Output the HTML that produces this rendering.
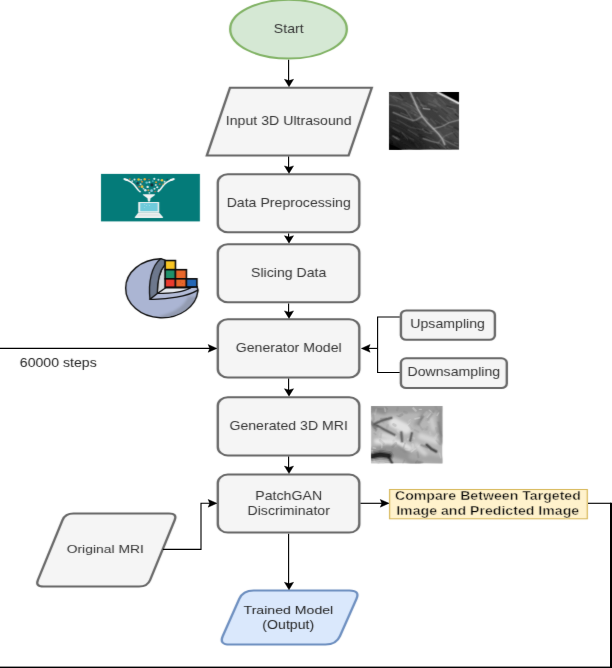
<!DOCTYPE html>
<html lang="en"><head><meta charset="utf-8"><title>Flowchart</title>
<style>html,body{margin:0;padding:0;background:#fff}body{width:612px;height:668px;overflow:hidden}svg{display:block}text{font-family:"Liberation Sans", Arial, Helvetica, sans-serif;white-space:pre}</style></head><body>
<svg width="612" height="668" viewBox="0 0 612 668">
<rect x="0" y="0" width="612" height="668" fill="#fff"/>
<defs><filter id="soft" filterUnits="userSpaceOnUse" x="0" y="0" width="612" height="668" color-interpolation-filters="sRGB"><feConvolveMatrix order="3" kernelMatrix="0.0055 0.0390 0.0055 0.0990 0.7020 0.0990 0.0055 0.0390 0.0055" divisor="1" edgeMode="duplicate" preserveAlpha="false"/></filter></defs>
<g filter="url(#soft)">
<rect x="0" y="0" width="612" height="668" fill="#fff"/>
<g transform="scale(1.178,1)">
<ellipse cx="244.91" cy="29.2" rx="49.49" ry="29.4" fill="#d5e8d4" stroke="#82b366" stroke-width="2"/>
<text x="245.08" y="33.2" font-size="12" fill="#333333" font-weight="normal" text-anchor="middle">Start</text>
<polygon points="175.55,155.6 195.25,87.7 315.62,87.7 295.93,155.6" fill="#f5f5f5" stroke="#666666" stroke-width="2" stroke-linejoin="miter" stroke-miterlimit="10"/>
<text x="245.08" y="124.8" font-size="12" fill="#333333" font-weight="normal" text-anchor="middle">Input 3D Ultrasound</text>
<rect x="184.89" y="174.2" width="120.12" height="58.10" rx="8.5" ry="8.5" fill="#f5f5f5" stroke="#666666" stroke-width="2"/>
<text x="245.08" y="206.9" font-size="12" fill="#333333" font-weight="normal" text-anchor="middle">Data Preprocessing</text>
<rect x="184.89" y="244.2" width="120.12" height="58.10" rx="8.5" ry="8.5" fill="#f5f5f5" stroke="#666666" stroke-width="2"/>
<text x="245.08" y="276.6" font-size="12" fill="#333333" font-weight="normal" text-anchor="middle">Slicing Data</text>
<rect x="184.89" y="319.3" width="120.12" height="58.20" rx="8.5" ry="8.5" fill="#f5f5f5" stroke="#666666" stroke-width="2"/>
<text x="245.08" y="351.8" font-size="12" fill="#333333" font-weight="normal" text-anchor="middle">Generator Model</text>
<rect x="184.89" y="397.3" width="120.12" height="58.10" rx="8.5" ry="8.5" fill="#f5f5f5" stroke="#666666" stroke-width="2"/>
<text x="245.08" y="429.8" font-size="12" fill="#333333" font-weight="normal" text-anchor="middle">Generated 3D MRI</text>
<rect x="184.89" y="474.6" width="120.12" height="58.00" rx="8.5" ry="8.5" fill="#f5f5f5" stroke="#666666" stroke-width="2"/>
<text x="245.08" y="499.7" font-size="12" fill="#333333" font-weight="normal" text-anchor="middle">PatchGAN</text>
<text x="245.08" y="514.7" font-size="12" fill="#333333" font-weight="normal" text-anchor="middle">Discriminator</text>
<rect x="340.32" y="310.5" width="79.80" height="29.30" rx="4.5" ry="4.5" fill="#f5f5f5" stroke="#666666" stroke-width="2"/>
<text x="379.97" y="328.1" font-size="12" fill="#333333" font-weight="normal" text-anchor="middle">Upsampling</text>
<rect x="340.32" y="358.3" width="89.90" height="29.70" rx="4.5" ry="4.5" fill="#f5f5f5" stroke="#666666" stroke-width="2"/>
<text x="385.23" y="376.5" font-size="12" fill="#333333" font-weight="normal" text-anchor="middle">Downsampling</text>
<text x="49.49" y="366.9" font-size="12" fill="#222" font-weight="normal" text-anchor="middle">60000 steps</text>
<rect x="330.73" y="489.5" width="167.83" height="29.3" fill="#fff2cc" stroke="#d6b656" stroke-width="1"/>
<text x="414.18" y="499.6" font-size="12" fill="#000" font-weight="bold" text-anchor="middle" stroke="#fff2cc" stroke-width="0.42" stroke-linejoin="round" paint-order="fill stroke">Compare Between Targeted</text>
<text x="414.01" y="514.8" font-size="12" fill="#000" font-weight="bold" text-anchor="middle" stroke="#fff2cc" stroke-width="0.42" stroke-linejoin="round" paint-order="fill stroke">Image and Predicted Image</text>
<path d="M36.88,586.60 Q29.88,586.60 32.18,579.99 L53.05,520.11 Q55.35,513.50 62.35,513.50 L143.59,513.50 Q150.59,513.50 148.29,520.11 L127.43,579.99 Q125.13,586.60 118.13,586.60 Z" fill="#f5f5f5" stroke="#666666" stroke-width="2"/>
<text transform="translate(89.39,552.7) scale(0.985,0.865)" font-size="12" fill="#333333" font-weight="normal" text-anchor="middle">Original MRI</text>
<path d="M194.91,644.60 Q185.91,644.60 189.08,636.18 L203.11,598.92 Q206.28,590.50 215.28,590.50 L296.77,590.50 Q305.77,590.50 302.60,598.92 L288.57,636.18 Q285.40,644.60 276.40,644.60 Z" fill="#dae8fc" stroke="#6c8ebf" stroke-width="2"/>
<text transform="translate(244.82,614.3) scale(1.0,0.9)" font-size="12" fill="#222" font-weight="normal" text-anchor="middle">Trained Model</text>
<text x="244.74" y="628.8" font-size="12" fill="#222" font-weight="normal" text-anchor="middle">(Output)</text>
</g>
<svg id="ultra" x="389" y="92" width="70" height="57.8" viewBox="25 25 560 465" preserveAspectRatio="none" overflow="hidden">
<defs><filter id="ub1" x="-30%" y="-30%" width="160%" height="160%"><feGaussianBlur stdDeviation="26"/></filter>
<linearGradient id="ubg" x1="0" y1="1" x2="1" y2="0"><stop offset="0" stop-color="#161616"/><stop offset="0.3" stop-color="#2c2c2c"/><stop offset="0.6" stop-color="#3c3c3c"/><stop offset="1" stop-color="#464646"/></linearGradient></defs>
<rect x="25" y="25" width="560" height="465" fill="url(#ubg)"/>
<g filter="url(#ub1)" fill="none" stroke-linecap="round" stroke-linejoin="round">
<path d="M25,60 L150,110 L230,170 L300,250 L400,330 L470,440" stroke="#4a4a4a" stroke-width="70"/>
<path d="M330,60 L450,140 L560,230" stroke="#4e4e4e" stroke-width="80"/>
<path d="M25,330 L140,390 L260,470" stroke="#1c1c1c" stroke-width="70"/>
<path d="M25,470 L120,490" stroke="#080808" stroke-width="70"/>
<path d="M120,200 L200,260 L300,340" stroke="#2a2a2a" stroke-width="40"/>
<path d="M480,330 L585,400" stroke="#505050" stroke-width="60"/>
</g>
<g fill="none" stroke-linecap="round">
<path d="M158,278 l45,23" stroke="#000" stroke-width="8" stroke-opacity="0.11"/>
<path d="M494,146 l65,24" stroke="#b0b0b0" stroke-width="13" stroke-opacity="0.18"/>
<path d="M383,95 l50,40" stroke="#b0b0b0" stroke-width="15" stroke-opacity="0.16"/>
<path d="M61,378 l28,21" stroke="#b0b0b0" stroke-width="13" stroke-opacity="0.18"/>
<path d="M428,434 l49,44" stroke="#b0b0b0" stroke-width="12" stroke-opacity="0.17"/>
<path d="M549,434 l26,7" stroke="#b0b0b0" stroke-width="12" stroke-opacity="0.20"/>
<path d="M376,165 l33,21" stroke="#b0b0b0" stroke-width="14" stroke-opacity="0.14"/>
<path d="M531,342 l39,49" stroke="#000" stroke-width="10" stroke-opacity="0.23"/>
<path d="M507,474 l31,38" stroke="#000" stroke-width="16" stroke-opacity="0.14"/>
<path d="M346,158 l61,14" stroke="#000" stroke-width="16" stroke-opacity="0.12"/>
<path d="M255,95 l54,23" stroke="#000" stroke-width="14" stroke-opacity="0.11"/>
<path d="M50,359 l58,27" stroke="#000" stroke-width="18" stroke-opacity="0.20"/>
<path d="M198,61 l17,13" stroke="#b0b0b0" stroke-width="14" stroke-opacity="0.12"/>
<path d="M112,45 l23,27" stroke="#000" stroke-width="12" stroke-opacity="0.28"/>
<path d="M283,267 l39,31" stroke="#b0b0b0" stroke-width="17" stroke-opacity="0.15"/>
<path d="M309,226 l24,22" stroke="#b0b0b0" stroke-width="13" stroke-opacity="0.20"/>
<path d="M332,30 l43,24" stroke="#b0b0b0" stroke-width="14" stroke-opacity="0.15"/>
<path d="M59,317 l46,28" stroke="#b0b0b0" stroke-width="15" stroke-opacity="0.16"/>
<path d="M37,53 l52,44" stroke="#b0b0b0" stroke-width="14" stroke-opacity="0.12"/>
<path d="M204,194 l35,16" stroke="#b0b0b0" stroke-width="12" stroke-opacity="0.10"/>
<path d="M457,38 l46,33" stroke="#b0b0b0" stroke-width="16" stroke-opacity="0.09"/>
<path d="M159,112 l48,27" stroke="#b0b0b0" stroke-width="11" stroke-opacity="0.11"/>
<path d="M492,229 l19,21" stroke="#b0b0b0" stroke-width="17" stroke-opacity="0.15"/>
<path d="M278,130 l45,12" stroke="#b0b0b0" stroke-width="16" stroke-opacity="0.17"/>
<path d="M128,155 l36,38" stroke="#000" stroke-width="9" stroke-opacity="0.17"/>
<path d="M188,394 l35,14" stroke="#b0b0b0" stroke-width="12" stroke-opacity="0.12"/>
<path d="M541,98 l66,12" stroke="#000" stroke-width="12" stroke-opacity="0.30"/>
<path d="M557,456 l54,20" stroke="#000" stroke-width="13" stroke-opacity="0.23"/>
<path d="M187,184 l22,8" stroke="#b0b0b0" stroke-width="16" stroke-opacity="0.10"/>
<path d="M50,445 l50,44" stroke="#000" stroke-width="14" stroke-opacity="0.28"/>
<path d="M32,372 l33,11" stroke="#000" stroke-width="12" stroke-opacity="0.20"/>
<path d="M551,310 l29,14" stroke="#000" stroke-width="16" stroke-opacity="0.20"/>
<path d="M222,117 l50,34" stroke="#b0b0b0" stroke-width="17" stroke-opacity="0.17"/>
<path d="M476,408 l51,9" stroke="#000" stroke-width="11" stroke-opacity="0.11"/>
<path d="M175,270 l38,21" stroke="#000" stroke-width="9" stroke-opacity="0.10"/>
<path d="M96,83 l67,16" stroke="#000" stroke-width="13" stroke-opacity="0.12"/>
<path d="M202,171 l47,23" stroke="#b0b0b0" stroke-width="10" stroke-opacity="0.11"/>
<path d="M209,83 l46,32" stroke="#b0b0b0" stroke-width="10" stroke-opacity="0.07"/>
<path d="M234,306 l27,28" stroke="#000" stroke-width="12" stroke-opacity="0.22"/>
<path d="M234,256 l31,27" stroke="#000" stroke-width="10" stroke-opacity="0.19"/>
<path d="M325,348 l40,9" stroke="#b0b0b0" stroke-width="17" stroke-opacity="0.18"/>
<path d="M235,443 l23,24" stroke="#b0b0b0" stroke-width="16" stroke-opacity="0.08"/>
<path d="M396,438 l37,38" stroke="#000" stroke-width="9" stroke-opacity="0.21"/>
<path d="M354,27 l56,17" stroke="#b0b0b0" stroke-width="9" stroke-opacity="0.07"/>
<path d="M518,108 l61,12" stroke="#b0b0b0" stroke-width="15" stroke-opacity="0.18"/>
<path d="M493,468 l48,35" stroke="#b0b0b0" stroke-width="13" stroke-opacity="0.17"/>
<path d="M425,75 l48,46" stroke="#b0b0b0" stroke-width="14" stroke-opacity="0.11"/>
<path d="M489,138 l31,10" stroke="#000" stroke-width="12" stroke-opacity="0.25"/>
<path d="M231,209 l37,18" stroke="#b0b0b0" stroke-width="18" stroke-opacity="0.13"/>
<path d="M256,373 l52,16" stroke="#000" stroke-width="13" stroke-opacity="0.23"/>
<path d="M296,324 l18,21" stroke="#b0b0b0" stroke-width="17" stroke-opacity="0.16"/>
<path d="M315,231 l22,20" stroke="#b0b0b0" stroke-width="14" stroke-opacity="0.09"/>
<path d="M201,133 l51,44" stroke="#b0b0b0" stroke-width="12" stroke-opacity="0.16"/>
<path d="M503,297 l29,12" stroke="#b0b0b0" stroke-width="12" stroke-opacity="0.13"/>
<path d="M121,193 l53,24" stroke="#b0b0b0" stroke-width="13" stroke-opacity="0.20"/>
<path d="M360,243 l41,45" stroke="#b0b0b0" stroke-width="15" stroke-opacity="0.13"/>
<path d="M505,211 l50,46" stroke="#b0b0b0" stroke-width="10" stroke-opacity="0.09"/>
<path d="M427,339 l38,50" stroke="#b0b0b0" stroke-width="11" stroke-opacity="0.09"/>
<path d="M130,353 l43,49" stroke="#b0b0b0" stroke-width="11" stroke-opacity="0.18"/>
<path d="M262,364 l24,6" stroke="#000" stroke-width="12" stroke-opacity="0.16"/>
<path d="M350,339 l36,7" stroke="#b0b0b0" stroke-width="10" stroke-opacity="0.13"/>
<path d="M353,469 l42,22" stroke="#b0b0b0" stroke-width="15" stroke-opacity="0.10"/>
<path d="M88,438 l16,19" stroke="#000" stroke-width="16" stroke-opacity="0.17"/>
<path d="M449,162 l40,34" stroke="#000" stroke-width="16" stroke-opacity="0.15"/>
<path d="M563,338 l21,14" stroke="#b0b0b0" stroke-width="15" stroke-opacity="0.11"/>
<path d="M405,288 l50,16" stroke="#000" stroke-width="17" stroke-opacity="0.14"/>
<path d="M392,82 l17,21" stroke="#b0b0b0" stroke-width="14" stroke-opacity="0.16"/>
<path d="M336,326 l31,18" stroke="#b0b0b0" stroke-width="15" stroke-opacity="0.07"/>
<path d="M448,278 l28,26" stroke="#b0b0b0" stroke-width="17" stroke-opacity="0.11"/>
<path d="M49,260 l55,21" stroke="#b0b0b0" stroke-width="12" stroke-opacity="0.11"/>
<path d="M328,384 l56,27" stroke="#b0b0b0" stroke-width="9" stroke-opacity="0.10"/>
<path d="M88,387 l21,20" stroke="#b0b0b0" stroke-width="15" stroke-opacity="0.12"/>
<path d="M482,373 l22,16" stroke="#b0b0b0" stroke-width="13" stroke-opacity="0.09"/>
<path d="M343,119 l55,21" stroke="#b0b0b0" stroke-width="17" stroke-opacity="0.17"/>
<path d="M557,203 l40,28" stroke="#000" stroke-width="15" stroke-opacity="0.30"/>
<path d="M193,425 l43,26" stroke="#000" stroke-width="16" stroke-opacity="0.10"/>
<path d="M396,254 l36,24" stroke="#b0b0b0" stroke-width="8" stroke-opacity="0.13"/>
<path d="M305,325 l42,24" stroke="#000" stroke-width="9" stroke-opacity="0.28"/>
<path d="M469,315 l37,8" stroke="#b0b0b0" stroke-width="13" stroke-opacity="0.07"/>
<path d="M546,175 l36,41" stroke="#b0b0b0" stroke-width="14" stroke-opacity="0.18"/>
</g>
<g fill="none" stroke-linecap="round" stroke-linejoin="round">
<path d="M195,25 L225,90 L255,160 L290,220 L330,270 L380,320 L420,360 L450,400 L470,445" stroke="#c8c8c8" stroke-width="29" stroke-opacity="0.140"/>
<path d="M195,25 L225,90 L255,160 L290,220 L330,270 L380,320 L420,360 L450,400 L470,445" stroke="#c8c8c8" stroke-width="17" stroke-opacity="0.280"/>
<path d="M195,25 L225,90 L255,160 L290,220 L330,270 L380,320 L420,360 L450,400 L470,445" stroke="#c8c8c8" stroke-width="9" stroke-opacity="0.500"/>
<path d="M290,222 L240,250 L215,255 L150,228 L60,190" stroke="#b0b0b0" stroke-width="29" stroke-opacity="0.084"/>
<path d="M290,222 L240,250 L215,255 L150,228 L60,190" stroke="#b0b0b0" stroke-width="17" stroke-opacity="0.168"/>
<path d="M290,222 L240,250 L215,255 L150,228 L60,190" stroke="#b0b0b0" stroke-width="9" stroke-opacity="0.300"/>
<path d="M30,125 L100,140 L160,170 L215,250" stroke="#a0a0a0" stroke-width="29" stroke-opacity="0.049"/>
<path d="M30,125 L100,140 L160,170 L215,250" stroke="#a0a0a0" stroke-width="17" stroke-opacity="0.098"/>
<path d="M30,125 L100,140 L160,170 L215,250" stroke="#a0a0a0" stroke-width="9" stroke-opacity="0.175"/>
<path d="M380,320 L450,302 L510,270 L585,250" stroke="#b8b8b8" stroke-width="26" stroke-opacity="0.084"/>
<path d="M380,320 L450,302 L510,270 L585,250" stroke="#b8b8b8" stroke-width="15" stroke-opacity="0.168"/>
<path d="M380,320 L450,302 L510,270 L585,250" stroke="#b8b8b8" stroke-width="8" stroke-opacity="0.300"/>
<path d="M250,70 L300,150" stroke="#a0a0a0" stroke-width="26" stroke-opacity="0.049"/>
<path d="M250,70 L300,150" stroke="#a0a0a0" stroke-width="15" stroke-opacity="0.098"/>
<path d="M250,70 L300,150" stroke="#a0a0a0" stroke-width="8" stroke-opacity="0.175"/>
<path d="M300,158 L350,164" stroke="#d0d0d0" stroke-width="22" stroke-opacity="0.098"/>
<path d="M300,158 L350,164" stroke="#d0d0d0" stroke-width="13" stroke-opacity="0.196"/>
<path d="M300,158 L350,164" stroke="#d0d0d0" stroke-width="7" stroke-opacity="0.350"/>
<path d="M430,215 L470,250 L500,270" stroke="#a8a8a8" stroke-width="26" stroke-opacity="0.056"/>
<path d="M430,215 L470,250 L500,270" stroke="#a8a8a8" stroke-width="15" stroke-opacity="0.112"/>
<path d="M430,215 L470,250 L500,270" stroke="#a8a8a8" stroke-width="8" stroke-opacity="0.200"/>
<path d="M55,380 L100,408" stroke="#a0a0a0" stroke-width="26" stroke-opacity="0.056"/>
<path d="M55,380 L100,408" stroke="#a0a0a0" stroke-width="15" stroke-opacity="0.112"/>
<path d="M55,380 L100,408" stroke="#a0a0a0" stroke-width="8" stroke-opacity="0.200"/>
<path d="M300,400 L360,420 L420,435" stroke="#b0b0b0" stroke-width="29" stroke-opacity="0.070"/>
<path d="M300,400 L360,420 L420,435" stroke="#b0b0b0" stroke-width="17" stroke-opacity="0.140"/>
<path d="M300,400 L360,420 L420,435" stroke="#b0b0b0" stroke-width="9" stroke-opacity="0.250"/>
<path d="M180,330 L260,380" stroke="#909090" stroke-width="26" stroke-opacity="0.042"/>
<path d="M180,330 L260,380" stroke="#909090" stroke-width="15" stroke-opacity="0.084"/>
<path d="M180,330 L260,380" stroke="#909090" stroke-width="8" stroke-opacity="0.150"/>
<path d="M450,400 L520,440 L585,470" stroke="#a8a8a8" stroke-width="29" stroke-opacity="0.056"/>
<path d="M450,400 L520,440 L585,470" stroke="#a8a8a8" stroke-width="17" stroke-opacity="0.112"/>
<path d="M450,400 L520,440 L585,470" stroke="#a8a8a8" stroke-width="9" stroke-opacity="0.200"/>
<path d="M60,60 L130,90" stroke="#989898" stroke-width="26" stroke-opacity="0.049"/>
<path d="M60,60 L130,90" stroke="#989898" stroke-width="15" stroke-opacity="0.098"/>
<path d="M60,60 L130,90" stroke="#989898" stroke-width="8" stroke-opacity="0.175"/>
<path d="M420,430 L470,380 L540,350" stroke="#a0a0a0" stroke-width="26" stroke-opacity="0.042"/>
<path d="M420,430 L470,380 L540,350" stroke="#a0a0a0" stroke-width="15" stroke-opacity="0.084"/>
<path d="M420,430 L470,380 L540,350" stroke="#a0a0a0" stroke-width="8" stroke-opacity="0.150"/>
<path d="M90,250 L200,310 L300,330" stroke="#909090" stroke-width="26" stroke-opacity="0.035"/>
<path d="M90,250 L200,310 L300,330" stroke="#909090" stroke-width="15" stroke-opacity="0.070"/>
<path d="M90,250 L200,310 L300,330" stroke="#909090" stroke-width="8" stroke-opacity="0.125"/>
<path d="M130,120 L200,150 L250,200" stroke="#909090" stroke-width="32" stroke-opacity="0.028"/>
<path d="M130,120 L200,150 L250,200" stroke="#909090" stroke-width="19" stroke-opacity="0.056"/>
<path d="M130,120 L200,150 L250,200" stroke="#909090" stroke-width="10" stroke-opacity="0.100"/>
<path d="M340,90 L420,130 L520,200" stroke="#8c8c8c" stroke-width="32" stroke-opacity="0.028"/>
<path d="M340,90 L420,130 L520,200" stroke="#8c8c8c" stroke-width="19" stroke-opacity="0.056"/>
<path d="M340,90 L420,130 L520,200" stroke="#8c8c8c" stroke-width="10" stroke-opacity="0.100"/>
<path d="M40,300 L120,340 L220,420" stroke="#707070" stroke-width="32" stroke-opacity="0.028"/>
<path d="M40,300 L120,340 L220,420" stroke="#707070" stroke-width="19" stroke-opacity="0.056"/>
<path d="M40,300 L120,340 L220,420" stroke="#707070" stroke-width="10" stroke-opacity="0.100"/>
</g>
<polygon points="436,25 585,25 585,108" fill="#000"/>
<polygon points="25,440 25,490 132,490" fill="#000"/>
<path d="M405,25 L585,118" stroke="#9a9a9a" stroke-width="26" stroke-opacity="0.5" fill="none"/>
<path d="M412,28 L585,117" stroke="#d6d6d6" stroke-width="13" fill="none"/>
<polygon points="452,25 585,25 585,96" fill="#000"/>
</svg>
<svg id="mri" x="371.1" y="406.1" width="71.4" height="57.5" viewBox="17 17 575 463" preserveAspectRatio="none" overflow="hidden">
<defs><filter id="mb1" x="-30%" y="-30%" width="160%" height="160%"><feGaussianBlur stdDeviation="14"/></filter></defs>
<rect x="17" y="17" width="575" height="463" fill="#b6b6b6"/>
<g filter="url(#mb1)" stroke-linecap="round" stroke-linejoin="round" fill="none">
<path d="M17,40 L250,40 L592,30" stroke="#9c9c9c" stroke-width="70"/>
<path d="M17,30 L120,60" stroke="#8c8c8c" stroke-width="50"/>
<path d="M200,150 L300,200" stroke="#e2e2e2" stroke-width="80"/>
<path d="M60,300 L250,310 L330,360" stroke="#e4e4e4" stroke-width="40"/>
<path d="M420,260 L540,300" stroke="#d4d4d4" stroke-width="50"/>
<path d="M17,400 L150,370 L300,410 L380,480" stroke="#949494" stroke-width="90"/>
<path d="M350,420 L592,460" stroke="#a6a6a6" stroke-width="60"/>
<path d="M460,50 L380,160" stroke="#989898" stroke-width="30"/>
<path d="M575,60 L585,300" stroke="#929292" stroke-width="50"/>
<path d="M500,120 L520,200" stroke="#d0d0d0" stroke-width="30"/>
<path d="M100,250 L200,270" stroke="#d8d8d8" stroke-width="36"/>
<path d="M380,330 L450,400" stroke="#d4d4d4" stroke-width="36"/>
</g>
<g stroke-linecap="round" fill="none">
<path d="M375,360 l-35,26" stroke="#f2f2f2" stroke-width="10" stroke-opacity="0.38"/>
<path d="M285,454 l-19,38" stroke="#6a6a6a" stroke-width="13" stroke-opacity="0.18"/>
<path d="M330,283 l21,1" stroke="#6a6a6a" stroke-width="19" stroke-opacity="0.26"/>
<path d="M109,386 l30,14" stroke="#6a6a6a" stroke-width="20" stroke-opacity="0.10"/>
<path d="M137,117 l-41,2" stroke="#6a6a6a" stroke-width="16" stroke-opacity="0.27"/>
<path d="M407,112 l-35,7" stroke="#f2f2f2" stroke-width="14" stroke-opacity="0.37"/>
<path d="M225,94 l15,7" stroke="#6a6a6a" stroke-width="10" stroke-opacity="0.21"/>
<path d="M407,173 l22,33" stroke="#6a6a6a" stroke-width="16" stroke-opacity="0.16"/>
<path d="M422,43 l-16,1" stroke="#f2f2f2" stroke-width="10" stroke-opacity="0.36"/>
<path d="M470,187 l-4,15" stroke="#6a6a6a" stroke-width="21" stroke-opacity="0.13"/>
<path d="M130,367 l-42,9" stroke="#6a6a6a" stroke-width="16" stroke-opacity="0.16"/>
<path d="M463,67 l-27,28" stroke="#f2f2f2" stroke-width="21" stroke-opacity="0.16"/>
<path d="M69,175 l-15,40" stroke="#6a6a6a" stroke-width="17" stroke-opacity="0.27"/>
<path d="M197,164 l15,9" stroke="#6a6a6a" stroke-width="22" stroke-opacity="0.22"/>
<path d="M110,39 l-31,1" stroke="#6a6a6a" stroke-width="17" stroke-opacity="0.14"/>
<path d="M492,228 l4,16" stroke="#f2f2f2" stroke-width="16" stroke-opacity="0.16"/>
<path d="M499,77 l-29,32" stroke="#f2f2f2" stroke-width="11" stroke-opacity="0.35"/>
<path d="M267,86 l-21,11" stroke="#6a6a6a" stroke-width="20" stroke-opacity="0.28"/>
<path d="M578,227 l1,37" stroke="#6a6a6a" stroke-width="15" stroke-opacity="0.15"/>
<path d="M101,192 l-44,2" stroke="#f2f2f2" stroke-width="14" stroke-opacity="0.27"/>
<path d="M68,143 l-32,26" stroke="#6a6a6a" stroke-width="19" stroke-opacity="0.24"/>
<path d="M416,324 l-19,18" stroke="#f2f2f2" stroke-width="16" stroke-opacity="0.22"/>
<path d="M460,337 l26,35" stroke="#f2f2f2" stroke-width="10" stroke-opacity="0.30"/>
<path d="M332,133 l-15,25" stroke="#f2f2f2" stroke-width="20" stroke-opacity="0.31"/>
<path d="M217,315 l-27,29" stroke="#6a6a6a" stroke-width="20" stroke-opacity="0.25"/>
<path d="M413,469 l-30,4" stroke="#6a6a6a" stroke-width="20" stroke-opacity="0.13"/>
<path d="M556,238 l-21,30" stroke="#f2f2f2" stroke-width="19" stroke-opacity="0.19"/>
<path d="M351,325 l8,33" stroke="#f2f2f2" stroke-width="19" stroke-opacity="0.31"/>
<path d="M33,91 l6,34" stroke="#6a6a6a" stroke-width="18" stroke-opacity="0.22"/>
<path d="M41,235 l13,11" stroke="#6a6a6a" stroke-width="12" stroke-opacity="0.16"/>
<path d="M128,34 l3,26" stroke="#f2f2f2" stroke-width="13" stroke-opacity="0.30"/>
<path d="M536,17 l7,22" stroke="#6a6a6a" stroke-width="20" stroke-opacity="0.12"/>
<path d="M232,34 l-6,17" stroke="#6a6a6a" stroke-width="17" stroke-opacity="0.16"/>
<path d="M568,396 l10,38" stroke="#f2f2f2" stroke-width="12" stroke-opacity="0.24"/>
<path d="M360,278 l-44,6" stroke="#f2f2f2" stroke-width="21" stroke-opacity="0.24"/>
<path d="M18,67 l-7,33" stroke="#6a6a6a" stroke-width="21" stroke-opacity="0.21"/>
<path d="M233,217 l18,15" stroke="#f2f2f2" stroke-width="22" stroke-opacity="0.24"/>
<path d="M542,293 l30,32" stroke="#6a6a6a" stroke-width="14" stroke-opacity="0.17"/>
<path d="M583,245 l18,23" stroke="#6a6a6a" stroke-width="15" stroke-opacity="0.21"/>
<path d="M186,379 l-13,8" stroke="#6a6a6a" stroke-width="21" stroke-opacity="0.15"/>
<path d="M467,131 l13,15" stroke="#f2f2f2" stroke-width="17" stroke-opacity="0.22"/>
<path d="M290,316 l-12,35" stroke="#6a6a6a" stroke-width="14" stroke-opacity="0.24"/>
<path d="M324,173 l18,25" stroke="#6a6a6a" stroke-width="19" stroke-opacity="0.16"/>
<path d="M357,34 l20,20" stroke="#f2f2f2" stroke-width="17" stroke-opacity="0.37"/>
<path d="M25,377 l7,31" stroke="#f2f2f2" stroke-width="16" stroke-opacity="0.31"/>
<path d="M541,195 l14,38" stroke="#6a6a6a" stroke-width="20" stroke-opacity="0.15"/>
<path d="M55,404 l-16,23" stroke="#6a6a6a" stroke-width="21" stroke-opacity="0.24"/>
<path d="M99,239 l-5,30" stroke="#6a6a6a" stroke-width="17" stroke-opacity="0.13"/>
<path d="M484,49 l30,26" stroke="#f2f2f2" stroke-width="10" stroke-opacity="0.32"/>
<path d="M432,470 l-36,0" stroke="#6a6a6a" stroke-width="13" stroke-opacity="0.25"/>
<path d="M388,458 l-12,15" stroke="#6a6a6a" stroke-width="12" stroke-opacity="0.27"/>
<path d="M368,209 l29,16" stroke="#6a6a6a" stroke-width="15" stroke-opacity="0.12"/>
<path d="M58,44 l-9,36" stroke="#f2f2f2" stroke-width="15" stroke-opacity="0.18"/>
<path d="M198,295 l1,43" stroke="#6a6a6a" stroke-width="18" stroke-opacity="0.11"/>
<path d="M104,309 l-1,42" stroke="#f2f2f2" stroke-width="13" stroke-opacity="0.31"/>
<path d="M334,135 l-22,22" stroke="#6a6a6a" stroke-width="14" stroke-opacity="0.14"/>
<path d="M441,100 l-22,27" stroke="#6a6a6a" stroke-width="11" stroke-opacity="0.22"/>
<path d="M89,292 l30,28" stroke="#6a6a6a" stroke-width="20" stroke-opacity="0.16"/>
<path d="M34,353 l19,3" stroke="#f2f2f2" stroke-width="13" stroke-opacity="0.32"/>
<path d="M84,467 l-20,34" stroke="#6a6a6a" stroke-width="14" stroke-opacity="0.21"/>
<path d="M152,171 l-9,24" stroke="#6a6a6a" stroke-width="20" stroke-opacity="0.12"/>
<path d="M390,389 l8,40" stroke="#6a6a6a" stroke-width="17" stroke-opacity="0.21"/>
<path d="M443,200 l15,5" stroke="#6a6a6a" stroke-width="21" stroke-opacity="0.11"/>
<path d="M294,369 l29,0" stroke="#f2f2f2" stroke-width="15" stroke-opacity="0.30"/>
<path d="M285,63 l17,9" stroke="#6a6a6a" stroke-width="21" stroke-opacity="0.17"/>
<path d="M104,135 l13,15" stroke="#6a6a6a" stroke-width="16" stroke-opacity="0.14"/>
<path d="M35,445 l17,40" stroke="#f2f2f2" stroke-width="16" stroke-opacity="0.32"/>
<path d="M561,72 l-12,20" stroke="#f2f2f2" stroke-width="12" stroke-opacity="0.33"/>
<path d="M133,29 l13,11" stroke="#6a6a6a" stroke-width="14" stroke-opacity="0.28"/>
<path d="M196,234 l23,29" stroke="#f2f2f2" stroke-width="13" stroke-opacity="0.19"/>
</g>
<g stroke-linecap="round" stroke-linejoin="round" fill="none">
<path d="M180,112 L100,135 L45,162 L130,210 L205,248" stroke="#404040" stroke-width="34" stroke-opacity="0.128"/>
<path d="M180,112 L100,135 L45,162 L130,210 L205,248" stroke="#404040" stroke-width="22" stroke-opacity="0.240"/>
<path d="M180,112 L100,135 L45,162 L130,210 L205,248" stroke="#404040" stroke-width="13" stroke-opacity="0.480"/>
<path d="M20,150 L50,190" stroke="#505050" stroke-width="57" stroke-opacity="0.096"/>
<path d="M20,150 L50,190" stroke="#505050" stroke-width="37" stroke-opacity="0.180"/>
<path d="M20,150 L50,190" stroke="#505050" stroke-width="22" stroke-opacity="0.360"/>
<path d="M260,230 L266,300" stroke="#404040" stroke-width="36" stroke-opacity="0.128"/>
<path d="M260,230 L266,300" stroke="#404040" stroke-width="24" stroke-opacity="0.240"/>
<path d="M260,230 L266,300" stroke="#404040" stroke-width="14" stroke-opacity="0.480"/>
<path d="M345,235 L332,295" stroke="#383838" stroke-width="31" stroke-opacity="0.136"/>
<path d="M345,235 L332,295" stroke="#383838" stroke-width="20" stroke-opacity="0.255"/>
<path d="M345,235 L332,295" stroke="#383838" stroke-width="12" stroke-opacity="0.510"/>
<path d="M465,330 L500,360 L540,382" stroke="#282828" stroke-width="36" stroke-opacity="0.152"/>
<path d="M465,330 L500,360 L540,382" stroke="#282828" stroke-width="24" stroke-opacity="0.285"/>
<path d="M465,330 L500,360 L540,382" stroke="#282828" stroke-width="14" stroke-opacity="0.570"/>
<path d="M25,420 L90,408 L160,418" stroke="#000" stroke-width="78" stroke-opacity="0.160"/>
<path d="M25,420 L90,408 L160,418" stroke="#000" stroke-width="51" stroke-opacity="0.300"/>
<path d="M25,420 L90,408 L160,418" stroke="#000" stroke-width="30" stroke-opacity="0.600"/>
<path d="M160,430 L185,475" stroke="#1c1c1c" stroke-width="34" stroke-opacity="0.144"/>
<path d="M160,430 L185,475" stroke="#1c1c1c" stroke-width="22" stroke-opacity="0.270"/>
<path d="M160,430 L185,475" stroke="#1c1c1c" stroke-width="13" stroke-opacity="0.540"/>
<path d="M430,100 L400,160" stroke="#707070" stroke-width="36" stroke-opacity="0.080"/>
<path d="M430,100 L400,160" stroke="#707070" stroke-width="24" stroke-opacity="0.150"/>
<path d="M430,100 L400,160" stroke="#707070" stroke-width="14" stroke-opacity="0.300"/>
<path d="M520,60 L470,130" stroke="#808080" stroke-width="36" stroke-opacity="0.064"/>
<path d="M520,60 L470,130" stroke="#808080" stroke-width="24" stroke-opacity="0.120"/>
<path d="M520,60 L470,130" stroke="#808080" stroke-width="14" stroke-opacity="0.240"/>
<path d="M560,150 L575,230" stroke="#707070" stroke-width="36" stroke-opacity="0.064"/>
<path d="M560,150 L575,230" stroke="#707070" stroke-width="24" stroke-opacity="0.120"/>
<path d="M560,150 L575,230" stroke="#707070" stroke-width="14" stroke-opacity="0.240"/>
<path d="M220,330 L290,380" stroke="#808080" stroke-width="36" stroke-opacity="0.064"/>
<path d="M220,330 L290,380" stroke="#808080" stroke-width="24" stroke-opacity="0.120"/>
<path d="M220,330 L290,380" stroke="#808080" stroke-width="14" stroke-opacity="0.240"/>
<path d="M420,330 L470,350" stroke="#606060" stroke-width="31" stroke-opacity="0.064"/>
<path d="M420,330 L470,350" stroke="#606060" stroke-width="20" stroke-opacity="0.120"/>
<path d="M420,330 L470,350" stroke="#606060" stroke-width="12" stroke-opacity="0.240"/>
<path d="M17,470 L120,472" stroke="#c8c8c8" stroke-width="14" stroke-opacity="0.8"/>
</g>
</svg>
<g id="prep">
<rect x="101" y="173.9" width="98.9" height="47.5" fill="#047b79"/>
<svg x="120" y="172" width="60" height="51.96" viewBox="0 0 612 530" preserveAspectRatio="none">
<g fill="none" stroke="#f4f7f7" stroke-linecap="round" stroke-linejoin="round">
<path d="M48,74 Q120,95 160,150 T205,200" stroke-width="15"/>
<path d="M545,74 Q472,95 432,150 T388,198" stroke-width="15"/>
<path d="M45,72 L75,82" stroke-width="20"/>
<path d="M548,72 L518,82" stroke-width="20"/>
</g>
<g>
<circle cx="100" cy="72" r="9" fill="#c97a4a"/>
<circle cx="148" cy="76" r="10" fill="#e8ecec"/>
<circle cx="190" cy="76" r="13" fill="#f2c230"/>
<circle cx="252" cy="74" r="12" fill="#efb23a"/>
<circle cx="296" cy="76" r="8" fill="#b46a3c"/>
<circle cx="350" cy="70" r="11" fill="#e6f0f0"/>
<circle cx="428" cy="84" r="13" fill="#f2c640"/>
<circle cx="482" cy="76" r="8" fill="#1e3c48"/>
<circle cx="180" cy="116" r="13" fill="#1c3a44"/>
<circle cx="225" cy="100" r="10" fill="#d98a3a"/>
<circle cx="272" cy="108" r="12" fill="#6cc6d6"/>
<circle cx="325" cy="132" r="16" fill="#173038"/>
<circle cx="368" cy="104" r="10" fill="#e0a030"/>
<circle cx="405" cy="124" r="9" fill="#c0603a"/>
<circle cx="225" cy="150" r="14" fill="#f0c040"/>
<circle cx="282" cy="152" r="12" fill="#e8eeee"/>
<circle cx="196" cy="150" r="9" fill="#c87040"/>
<circle cx="380" cy="156" r="11" fill="#e8f0f0"/>
<circle cx="258" cy="186" r="13" fill="#dfe6ea"/>
<circle cx="322" cy="190" r="14" fill="#8ec6dc"/>
<circle cx="358" cy="200" r="8" fill="#c0604a"/>
<circle cx="395" cy="186" r="9" fill="#eef2f2"/>
</g>
<g opacity="0.9">
<circle cx="125" cy="92" r="9" fill="#e8eeee"/>
<circle cx="165" cy="98" r="9" fill="#3a8a9a"/>
<circle cx="210" cy="126" r="10" fill="#e9efef"/>
<circle cx="245" cy="128" r="10" fill="#2d6f7a"/>
<circle cx="300" cy="104" r="10" fill="#f0f3f3"/>
<circle cx="335" cy="92" r="9" fill="#58b6c8"/>
<circle cx="392" cy="80" r="10" fill="#e6ecec"/>
<circle cx="455" cy="100" r="10" fill="#e8eeee"/>
<circle cx="440" cy="126" r="8" fill="#d9a53a"/>
<circle cx="365" cy="132" r="10" fill="#dfe8e8"/>
<circle cx="290" cy="186" r="10" fill="#e0a040"/>
<circle cx="352" cy="170" r="10" fill="#f0f4f4"/>
<circle cx="240" cy="170" r="9" fill="#cfe0e0"/>
<circle cx="300" cy="212" r="9" fill="#e8eeee"/>
<circle cx="215" cy="80" r="8" fill="#e8eeee"/>
<circle cx="275" cy="78" r="8" fill="#2a5560"/>
</g>
<path d="M232,228 L358,228 L352,240 L312,268 L306,300 L286,300 L280,268 L240,240 Z" fill="#f2f4f4"/>
<rect x="186" y="306" width="214" height="110" rx="6" fill="#eef1f1"/>
<rect x="206" y="316" width="178" height="84" fill="#6fcadb"/>
<path d="M186,416 L400,416 L440,462 Q440,468 432,468 L158,468 Q150,468 150,462 Z" fill="#f0f2f2"/>
<path d="M190,432 L396,432 M180,446 L408,446" stroke="#c9d3d3" stroke-width="5" fill="none"/>
<g fill="#e9f7fa"><circle cx="250" cy="332" r="4"/><circle cx="270" cy="343" r="4"/><circle cx="300" cy="340" r="4"/><circle cx="248" cy="360" r="4"/></g>
</svg>
</g>
<svg id="slicer" x="122" y="254" width="80" height="67.97" viewBox="0 0 612 520" preserveAspectRatio="none">
<defs><filter id="sb" x="-20%" y="-20%" width="140%" height="140%"><feGaussianBlur stdDeviation="9"/></filter>
<clipPath id="sphc"><ellipse cx="305" cy="261" rx="273" ry="223"/></clipPath></defs>
<!-- sphere body -->
<path d="M296,36 A277,226 0 1 0 581,282 L575,250 L330,250 L330,60 Z" fill="#abb5d3" stroke="#111" stroke-width="11" stroke-linejoin="round"/>
<g clip-path="url(#sphc)"><path d="M290,474 C390,452 480,400 505,325 L600,330 C560,450 460,510 300,510 Z" fill="#8f97ab" opacity="0.85" filter="url(#sb)"/></g>
<!-- lower rim -->
<path d="M214,346 C350,350 500,324 580,276 L574,250 L520,258 L330,258 L265,300 Z" fill="#b3bcd8" stroke="#111" stroke-width="10" stroke-linejoin="round"/>
<!-- floor -->
<path d="M270,302 C360,302 470,290 524,260 L330,258 Z" fill="#e6e9ee" stroke="#111" stroke-width="9" stroke-linejoin="round"/>
<!-- inner wall -->
<path d="M326,82 C296,120 270,200 270,302 L332,260 L332,82 Z" fill="#d3d7dd" stroke="#111" stroke-width="9" stroke-linejoin="round"/>
<!-- dark band -->
<path d="M296,36 C225,90 200,220 214,346 L270,302 C270,200 296,120 328,82 L330,46 Z" fill="#6d788d" stroke="#111" stroke-width="10" stroke-linejoin="round"/>
<!-- cubes -->
<g stroke="#0a0a0a" stroke-width="12" stroke-linejoin="miter">
<rect x="330" y="50" width="79" height="70" fill="#f8c524"/>
<rect x="330" y="120" width="79" height="70" fill="#20916a"/>
<rect x="409" y="120" width="84" height="70" fill="#e8672b"/>
<rect x="330" y="190" width="79" height="64" fill="#ea3a2d"/>
<rect x="409" y="190" width="84" height="64" fill="#e8672b"/>
<rect x="493" y="190" width="80" height="62" fill="#2367b6"/>
</g>
<circle cx="447" cy="214" r="3" fill="#8a3a10"/><circle cx="462" cy="226" r="3" fill="#8a3a10"/>
</svg>
</g>
<g id="connectors">
<polyline points="288.6,59.8 288.6,83.8" fill="none" stroke="#000" stroke-width="1.12" stroke-linejoin="miter"/>
<polygon points="289.00,86.80 284.41,79.30 289.00,80.60 293.59,79.30" fill="#000" stroke="#000" stroke-width="0.4" stroke-linejoin="round"/>
<polyline points="288.6,156.5 288.6,170.4" fill="none" stroke="#000" stroke-width="1.12" stroke-linejoin="miter"/>
<polygon points="289.00,173.40 284.41,165.90 289.00,167.20 293.59,165.90" fill="#000" stroke="#000" stroke-width="0.4" stroke-linejoin="round"/>
<polyline points="288.6,233.4 288.6,240.2" fill="none" stroke="#000" stroke-width="1.12" stroke-linejoin="miter"/>
<polygon points="289.00,243.20 284.41,235.70 289.00,237.00 293.59,235.70" fill="#000" stroke="#000" stroke-width="0.4" stroke-linejoin="round"/>
<polyline points="288.6,303.4 288.6,315.4" fill="none" stroke="#000" stroke-width="1.12" stroke-linejoin="miter"/>
<polygon points="289.00,318.40 284.41,310.90 289.00,312.20 293.59,310.90" fill="#000" stroke="#000" stroke-width="0.4" stroke-linejoin="round"/>
<polyline points="288.6,378.6 288.6,393.2" fill="none" stroke="#000" stroke-width="1.12" stroke-linejoin="miter"/>
<polygon points="289.00,396.20 284.41,388.70 289.00,390.00 293.59,388.70" fill="#000" stroke="#000" stroke-width="0.4" stroke-linejoin="round"/>
<polyline points="288.6,456.5 288.6,470.6" fill="none" stroke="#000" stroke-width="1.12" stroke-linejoin="miter"/>
<polygon points="289.00,473.60 284.41,466.10 289.00,467.40 293.59,466.10" fill="#000" stroke="#000" stroke-width="0.4" stroke-linejoin="round"/>
<polyline points="288.6,533.7 288.6,586.8" fill="none" stroke="#000" stroke-width="1.12" stroke-linejoin="miter"/>
<polygon points="289.00,589.80 284.41,582.30 289.00,583.60 293.59,582.30" fill="#000" stroke="#000" stroke-width="0.4" stroke-linejoin="round"/>
<polyline points="-2,348.4 212,348.4" fill="none" stroke="#000" stroke-width="1.12" stroke-linejoin="miter"/>
<polygon points="217.00,348.40 208.16,344.50 209.70,348.40 208.16,352.30" fill="#000" stroke="#000" stroke-width="0.4" stroke-linejoin="round"/>
<polyline points="399.7,317.0 377.6,317.0 377.6,372.5 399.7,372.5" fill="none" stroke="#000" stroke-width="1.12" stroke-linejoin="miter"/>
<polyline points="377.6,348.4 366,348.4" fill="none" stroke="#000" stroke-width="1.12" stroke-linejoin="miter"/>
<polygon points="361.30,348.40 370.13,344.50 368.60,348.40 370.13,352.30" fill="#000" stroke="#000" stroke-width="0.4" stroke-linejoin="round"/>
<polyline points="162.8,549.4 201,549.4 201,503.3 212,503.3" fill="none" stroke="#000" stroke-width="1.12" stroke-linejoin="miter"/>
<polygon points="217.00,503.30 208.16,499.40 209.70,503.30 208.16,507.20" fill="#000" stroke="#000" stroke-width="0.4" stroke-linejoin="round"/>
<polyline points="360.5,503.3 384,503.3" fill="none" stroke="#000" stroke-width="1.12" stroke-linejoin="miter"/>
<polygon points="389.10,503.30 380.27,499.40 381.80,503.30 380.27,507.20" fill="#000" stroke="#000" stroke-width="0.4" stroke-linejoin="round"/>
<polyline points="588.0,503.3 611,503.3" fill="none" stroke="#000" stroke-width="1.12" stroke-linejoin="miter"/>
<rect x="610" y="502.75" width="2" height="165.25" fill="#000"/>
<rect x="0" y="666.6" width="612" height="1.4" fill="#000"/>
</g>
</svg></body></html>
